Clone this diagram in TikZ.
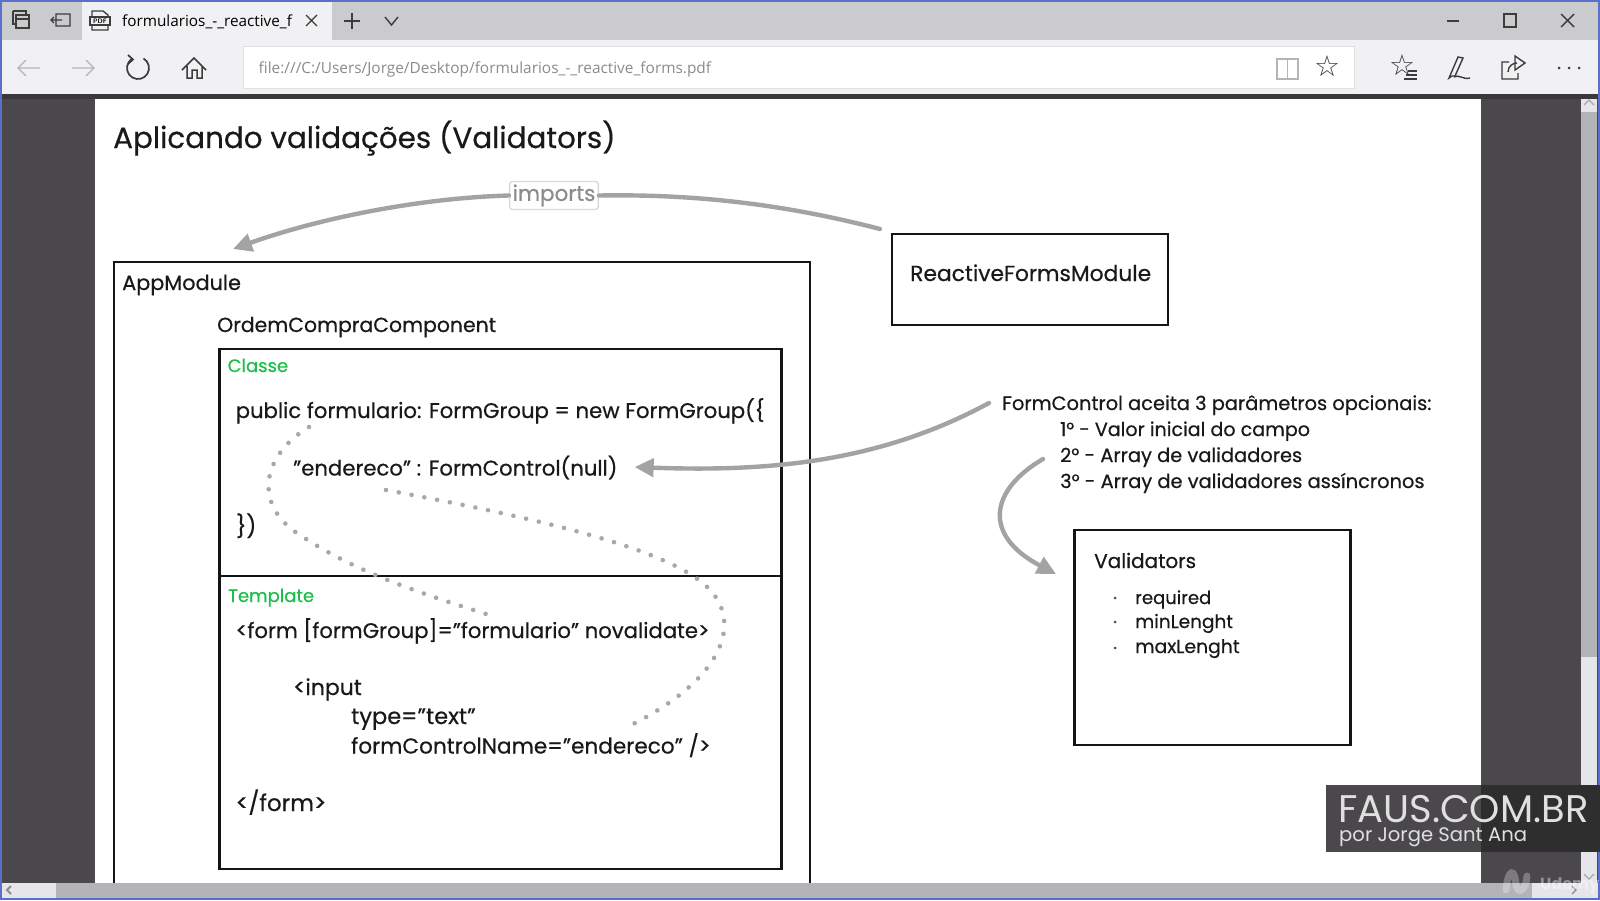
\documentclass[tikz,border=0pt]{standalone}
\usepackage{fontspec}
\setmainfont{Poppins}[FakeBold=0.5]
\newfontfamily\markfont{Poppins}
\newfontfamily\uifont{Open Sans}
\newfontfamily\symfont{DejaVu Sans}
\usetikzlibrary{arrows.meta}
\definecolor{stripc}{HTML}{CBCACC}
\definecolor{barc}{HTML}{F1F0F2}
\definecolor{darkc}{HTML}{4A484B}
\definecolor{edgec}{HTML}{3A383B}
\definecolor{winblue}{HTML}{5A6FC8}
\definecolor{scrollc}{HTML}{B4B4B8}
\definecolor{lightsc}{HTML}{E6E6EA}
\definecolor{arrowc}{HTML}{A3A3A3}
\definecolor{dotc}{HTML}{A8A8A8}
\definecolor{greenc}{HTML}{1DBF4B}
\definecolor{urlc}{HTML}{8C8B8D}
\definecolor{iconc}{HTML}{3C3C3C}
\definecolor{mutedc}{HTML}{B5B4B6}
\tikzset{
  fs/.style={font=\fontsize{#1}{#1}\selectfont},
  txt/.style={anchor=base west,inner sep=0pt,text=black!90},
  body/.style={txt,fs=21.2},
  small/.style={txt,fs=19.4},
  box/.style={draw=black!92,line width=2.9pt,inner sep=0pt},
  sketch/.style={draw=arrowc,line width=4.4pt,line cap=round},
  tipped/.style={sketch,-{Triangle[length=19pt,width=18pt]}},
  dotted path/.style={draw=dotc,line width=4.6pt,line cap=round,dash pattern=on 0pt off 13pt},
  icon/.style={draw=iconc,line width=1.4pt},
  uitext/.style={anchor=base west,inner sep=0pt,font=\uifont\fontsize{15.3}{15.3}\selectfont},
}
\begin{document}
\begin{tikzpicture}[x=1pt,y=-1pt]
\useasboundingbox (0,0) rectangle (1600,900);
% chrome
\fill[darkc] (0,0) rectangle (1600,900);
\fill[stripc] (0,0) rectangle (1600,40);
\fill[barc] (0,40) rectangle (1600,94);
\fill[edgec] (0,94) rectangle (1600,99);
\fill[barc] (82,2) rectangle (332,40);
\fill[white] (95,99) rectangle (1481,883);
\fill[scrollc] (1581,99) rectangle (1597,657);
\fill[lightsc] (1581,99) rectangle (1597,112);
\fill[lightsc] (1581,657) rectangle (1597,883);
\fill[scrollc] (0,883) rectangle (1600,898);
\fill[lightsc] (0,883) rectangle (56,898);
\fill[lightsc] (1532,883) rectangle (1598,898);
\fill[winblue] (0,0) rectangle (1600,2);
\fill[winblue] (0,898) rectangle (1600,900);
\fill[winblue] (0,0) rectangle (1.5,900);
\fill[winblue] (1597.5,0) rectangle (1600,900);
\node[draw=black!12,fill=white,line width=1pt,minimum width=1111pt,minimum height=42pt,inner sep=0pt] (urlbar) at (798.5,67.5) {};
\node[uitext] (tabtext) at (122,26) {formularios\_-\_reactive\_f};
\node[uitext,text=urlc] (urltext) at (258.5,73) {\fontsize{15.4}{15.4}\selectfont file:///C:/Users/Jorge/Desktop/formularios\_-\_reactive\_forms.pdf};
% tab-strip icons
\draw[icon] (16,15) rectangle (29,28) (16,19) -- (29,19) (13,11) -- (26,11) -- (26,15) (13,11) -- (13,24) -- (16,24);
\draw[icon] (56,14) rectangle (70,26) (51,20) -- (62,20) (54,17) -- (51,20) -- (54,23);
\draw[icon] (92,11) -- (103,11) -- (108,15) -- (108,30) -- (92,30) -- cycle;
\draw[icon,fill=barc] (90,17) rectangle (110,25);
\node[font=\sffamily\bfseries\fontsize{6.5}{6.5}\selectfont,inner sep=0pt] (pdflabel) at (100,21) {PDF};
\draw[icon] (306,15) -- (317,26) (317,15) -- (306,26);
\draw[icon] (344,21) -- (360,21) (352,13) -- (352,29);
\draw[icon] (385,17) -- (391.5,25) -- (398,17);
\draw[icon] (1447,21) -- (1459,21);
\draw[icon,line width=1.6pt] (1504,14) rectangle (1516,27);
\draw[icon] (1561,14) -- (1574,27) (1574,14) -- (1561,27);
% toolbar icons
\draw[icon,draw=mutedc] (18,68) -- (40,68) (26,60) -- (18,68) -- (26,76);
\draw[icon,draw=mutedc] (72,68) -- (94,68) (86,60) -- (94,68) -- (86,76);
\draw[icon,line width=1.7pt] (143.5,58.5) arc[start angle=60,end angle=-240,radius=11pt];
\draw[icon,line width=1.7pt] (128,55) -- (133,59.5) -- (128,64);
\draw[icon,line width=1.5pt] (182,70) -- (194,58) -- (206,70) (187,66) -- (187,78) -- (192,78) -- (192,70) -- (197,70) -- (197,78) -- (202,78) -- (202,66);
\draw[icon,draw=mutedc,fill=white] (1277,59) rectangle (1298,79) (1287.5,59) -- (1287.5,79);
\node[font=\symfont\fontsize{29}{29}\selectfont,inner sep=0pt,text=iconc] (favstar) at (1327,66) {☆};
\node[font=\symfont\fontsize{29}{29}\selectfont,inner sep=0pt,text=iconc] (hubstar) at (1402,65) {☆};
\draw[icon] (1408,71) -- (1417,71) (1406,75) -- (1417,75) (1404,79) -- (1417,79);
\draw[icon] (1452,76) -- (1449,78) -- (1458,57) -- (1463,58) -- (1455,76) -- cycle (1454,77) .. controls (1459,74) and (1463,80) .. (1470,78);
\draw[icon] (1509,62) -- (1502,62) -- (1502,79) -- (1518,79) -- (1518,73) (1508,72) .. controls (1508,66) and (1513,63) .. (1517,63) (1515,56) -- (1525,63) -- (1515,70) -- cycle;
\foreach \px in {1559,1569,1579} \fill[iconc] (\px,68) circle (1.5pt);
\draw[black!35,line width=1.2pt] (1584,105) -- (1589,100) -- (1594,105);
\draw[black!35,line width=1.2pt] (1584,874) -- (1589,879) -- (1594,874);
\draw[black!45,line width=1.8pt] (11,886) -- (7,890) -- (11,894);
\draw[black!45,line width=1.2pt] (1572,886) -- (1576,890) -- (1572,894);
% title and upper arrow
\node[txt,fs=29.4] (title) at (113,148) {Aplicando validações (Validators)};
\node[draw=black!15,rounded corners=3pt,fill=white,text=black!45,line width=1.4pt,inner sep=3pt,fs=21.5] (imports) at (554,195.5) {imports};
\node[box,minimum width=276pt,minimum height=91pt] (rfm) at (1030,279.5) {};
\node[txt,fs=21.8] (rfmtext) at (910,281) {ReactiveFormsModule};
% boxes (AppModule runs off the page)
\coordinate (appTL) at (114,262);
\coordinate (appTR) at (810,262);
\coordinate (appBL) at (114,883);
\coordinate (appBR) at (810,883);
\draw[draw=black!92,line width=2.7pt] (appBL) -- (appTL) -- (appTR) -- (appBR);
\node[txt,fs=20.8] (app) at (122,290) {AppModule};
\node[txt,fs=20.4] (ordem) at (217,332) {OrdemCompraComponent};
\node[box,minimum width=562pt,minimum height=227pt] (classe) at (500.5,462.5) {};
\node[box,minimum width=562pt,minimum height=293pt] (template) at (500.5,722.5) {};
\node[txt,fs=18,text=greenc] (classlbl) at (227.5,372) {Classe};
\node[txt,fs=18,text=greenc] (templbl) at (228,602) {Template};
\node[body] (l1) at (235.5,418) {public formulario: FormGroup = new FormGroup(\{};
\node[body] (l2) at (293,475.5) {"endereco" : FormControl(null)};
\node[body,fs=22] (l3) at (236,534) {\})};
\node[body] (l4) at (235.5,638) {<form [formGroup]="formulario" novalidate>};
\node[body,fs=22] (l5) at (293,695) {<input};
\node[body,fs=22.5] (l6) at (351,724) {type="text"};
\node[body,fs=21.6] (l7) at (351,753.5) {formControlName="endereco" />};
\node[body,fs=23] (l8) at (235.5,811) {</form>};
% right column
\node[small] (fc) at (1002,410) {FormControl aceita 3 parâmetros opcionais:};
\node[small,fs=19.1] (p1) at (1060,436) {1° - Valor inicial do campo};
\node[small] (p2) at (1060,462) {2° - Array de validadores};
\node[small] (p3) at (1060,488) {3° - Array de validadores assíncronos};
\node[box,minimum width=276pt,minimum height=215pt] (val) at (1212.5,637.5) {};
\node[txt,fs=20] (vt) at (1094,568) {Validators};
\node[small,fs=18] (v1) at (1135,604) {required};
\node[small,fs=18.5] (v2) at (1135,628) {minLenght};
\node[small,fs=18.8] (v3) at (1135,653) {maxLenght};
\foreach \py in {598,622,648} \fill[black!70] (1115,\py) circle (1.5pt);
% connectors
\coordinate (impEnd) at (880,229);
\coordinate (appTip) at (233,249);
\coordinate (fcStart) at (989,403);
\coordinate (p2Start) at (1043,459);
\coordinate (valTip) at (1056,574);
\draw[sketch] (impEnd) .. controls (780,203) and (690,194) .. (imports.east);
\draw[tipped] (imports.west) .. controls (420,198) and (320,218) .. (appTip);
\draw[tipped] (fcStart) .. controls (880,462) and (770,472) .. ([xshift=17pt]l2.east |- 0,467);
\draw[tipped] (p2Start) .. controls (990,490) and (982,535) .. (valTip);
% dotted links
\coordinate (dA1) at (309,427);
\coordinate (dA2) at (486,614);
\coordinate (dB1) at (386,490);
\coordinate (dB2) at (625,728);
\draw[dotted path] (dA1) .. controls (262,455) and (252,505) .. (300,535) .. controls (355,572) and (420,593) .. (dA2);
\draw[dotted path] (dB1) .. controls (520,515) and (660,545) .. (705,585) .. controls (745,620) and (725,680) .. (dB2);
% watermark
\fill[darkc] (1326,785) rectangle (1481,852);
\fill[black!82] (1481,785) rectangle (1600,852);
\node[anchor=base west,inner sep=0pt,text=white!88!black,font=\markfont\fontsize{38.5}{38.5}\selectfont] (faus) at (1338,822) {FAUS.COM.BR};
\node[anchor=base west,inner sep=0pt,text=white!88!black,font=\markfont\fontsize{19.6}{19.6}\selectfont] (por) at (1339,841.5) {por Jorge Sant Ana};
\draw[white,opacity=.28,line width=7pt,line cap=round] (1506,890) .. controls (1508,868) and (1515,868) .. (1516,885) .. controls (1518,895) and (1526,890) .. (1527,876);
\node[anchor=base west,inner sep=0pt,text=white,opacity=.4,font=\markfont\bfseries\fontsize{16}{16}\selectfont] (udemy) at (1540,889) {Udemy};
\end{tikzpicture}
\end{document}
